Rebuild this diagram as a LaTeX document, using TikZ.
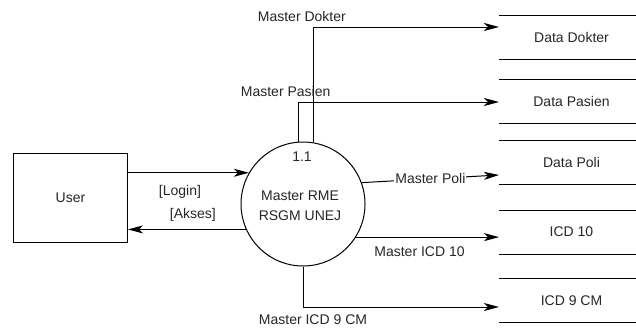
\documentclass[tikz,border=0pt]{standalone}
\usepackage{fontspec}
\setmainfont{Liberation Sans}
\usetikzlibrary{positioning, arrows.meta}

\tikzset{
  flow/.style={draw, -{Stealth[length=15pt, width=8pt, inset=4pt]}},
  store/.style={minimum width=144pt, minimum height=43pt, inner sep=0pt, anchor=west},
}

\begin{document}
\begin{tikzpicture}[x=1pt, y=-1pt, line width=1pt, font=\fontsize{14}{20}\selectfont, text=black!85]
    \useasboundingbox (0,0) rectangle (636,332);
    \node [draw, minimum width=114pt, minimum height=89pt, anchor=north west] (user) at (13,153) {User};
    \node [draw, circle, minimum size=124pt, inner sep=0pt] (proc) at (303,204) {};
    \node (num) at (302,157) {1.1};
    \node [align=center] (pname) at (300,206) {Master RME\\RSGM UNEJ};
    \foreach \s/\t/\y in {dok/Data Dokter/37.5, pas/Data Pasien/101, poli/Data Poli/162, icdten/ICD 10/232, icdnine/ICD 9 CM/300.5} \node [store] (\s) at (499,\y) {\t};
    \foreach \s in {dok,pas,poli,icdten,icdnine} \draw (\s.north west) -- (\s.north east) (\s.south west) -- (\s.south east);
    \draw [flow] (user.east |- proc.150) -- (proc.150) node [pos=.43, anchor=north, yshift=-9pt] {[Login]};
    \draw [flow] (proc.204) -- (user.east |- proc.204) node [pos=.45, anchor=south, yshift=4pt] {[Akses]};
    \draw [flow] (proc.80) |- (dok.west |- 0,27) node [pos=.5, anchor=south, xshift=-12pt, yshift=2pt] {Master Dokter};
    \draw [flow] (proc.94) |- (pas.west |- 0,102) node [pos=.5, anchor=south, xshift=-13pt, yshift=2pt] {Master Pasien};
    \draw [flow] (proc.20) -- (poli.west |- 0,175) node [midway, fill=white, inner sep=1pt] {Master Poli};
    \draw [flow] (proc.-32) -- (icdten.west |- proc.-32) node [midway, anchor=north, xshift=-8pt, yshift=-6pt] {Master ICD 10};
    \draw [flow] (proc.south) |- (icdnine.west |- 0,307) node [pos=.5, anchor=north, xshift=10pt, yshift=-4pt] {Master ICD 9 CM};
\end{tikzpicture}
\end{document}
